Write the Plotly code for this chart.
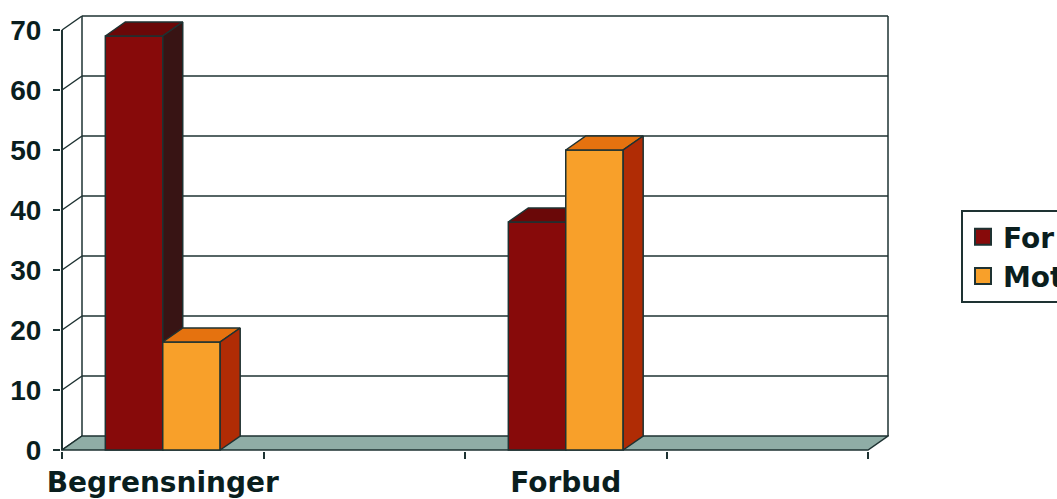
import plotly.graph_objects as go

# data
categories = ["Begrensninger", "", "Forbud", ""]
series_names = ["For", "Mot"]
for_values = [69, None, 38, None]
mot_values = [18, None, 50, None]
y_ticks = [0, 10, 20, 30, 40, 50, 60, 70]

# colours: front, top, side
front_colors = ["#870A0A", "#F8A02A"]
top_colors = ["#6A0808", "#E5720F"]
side_colors = ["#381414", "#B02C05"]
LINE = "#1E3232"
TEXT = "#0A1E1E"
FLOOR = "#8FADA6"

# fake 3d geometry (in axis units)
BAR_W = 0.285
DX = 20 / 201.5       # depth offset in x
DY = 14 / 6           # depth offset in y
YMAX = y_ticks[-1]

positions = list(range(len(categories)))
x_lo, x_hi = -0.5, len(categories) - 0.5

fig = go.Figure()

all_values = [for_values, mot_values]
for i, (name, vals) in enumerate(zip(series_names, all_values)):
    # each series on its own overlaid axes so later bars cover earlier sides
    xa = "x" if i == 0 else "x2"
    ya = "y" if i == 0 else "y2"
    offset = -BAR_W + i * BAR_W

    # front faces
    fig.add_trace(go.Bar(x=positions, y=vals, width=BAR_W, offset=offset,
                         marker=dict(color=front_colors[i],
                                     line=dict(color=LINE, width=1.5)),
                         showlegend=False, xaxis=xa, yaxis=ya))

    # top and side faces
    top_x, top_y, side_x, side_y = [], [], [], []
    for p, v in zip(positions, vals):
        if v is None:
            continue
        left = p + offset
        right = left + BAR_W
        top_x += [left, right, right + DX, left + DX, left, None]
        top_y += [v, v, v + DY, v + DY, v, None]
        side_x += [right, right, right + DX, right + DX, right, None]
        side_y += [0, v, v + DY, DY, 0, None]
    fig.add_trace(go.Scatter(x=top_x, y=top_y, fill="toself", mode="lines",
                             fillcolor=top_colors[i],
                             line=dict(color=LINE, width=1.5),
                             hoverinfo="skip", showlegend=False,
                             xaxis=xa, yaxis=ya))
    fig.add_trace(go.Scatter(x=side_x, y=side_y, fill="toself", mode="lines",
                             fillcolor=side_colors[i],
                             line=dict(color=LINE, width=1.5),
                             hoverinfo="skip", showlegend=False,
                             xaxis=xa, yaxis=ya))

    # legend entry
    fig.add_trace(go.Scatter(x=[None], y=[None], mode="markers", name=name,
                             legendgroup=name,
                             marker=dict(symbol="square", size=19,
                                         color=front_colors[i],
                                         line=dict(color=LINE, width=2)),
                             xaxis=xa, yaxis=ya))

# walls, floor and gridlines
shapes = []
xb0, xb1 = x_lo + DX, x_hi + DX
for v in y_ticks:
    shapes.append(dict(type="line", x0=x_lo, y0=v, x1=xb0, y1=v + DY,
                       line=dict(color=LINE, width=1.5)))
    if v > 0:
        shapes.append(dict(type="line", x0=xb0, y0=v + DY, x1=xb1, y1=v + DY,
                           line=dict(color=LINE, width=1.5)))
shapes.append(dict(type="line", x0=xb0, y0=DY, x1=xb0, y1=YMAX + DY,
                   line=dict(color=LINE, width=1.5)))
shapes.append(dict(type="line", x0=xb1, y0=DY, x1=xb1, y1=YMAX + DY,
                   line=dict(color=LINE, width=1.5)))
shapes.append(dict(type="path",
                   path=f"M{x_lo},0 L{x_hi},0 L{xb1},{DY} L{xb0},{DY} Z",
                   fillcolor=FLOOR, line=dict(color=LINE, width=1.5)))
shapes.append(dict(type="line", x0=x_lo, y0=0, x1=x_lo, y1=YMAX,
                   line=dict(color=LINE, width=2)))
for s in shapes:
    s.update(xref="x", yref="y", layer="below")

x_range = [x_lo - 1 / 201.5, x_lo + 827 / 201.5]
y_range = [-1 / 6, 72.5]

fig.update_layout(
    width=1057, height=499,
    margin=dict(l=61, r=168, t=15, b=48, autoexpand=False),
    paper_bgcolor="white", plot_bgcolor="white",
    bargap=0.43, bargroupgap=0,
    shapes=shapes,
    xaxis=dict(range=x_range, tickmode="array", tickvals=positions,
               ticktext=categories, ticks="", showgrid=False, zeroline=False,
               showline=False, fixedrange=True, ticklabelstandoff=12,
               tickfont=dict(family="DejaVu Sans", size=28, color=TEXT,
                             weight="bold"),
               minor=dict(tickmode="array",
                          tickvals=[p - 0.5 for p in positions] + [x_hi],
                          ticks="outside", ticklen=7, tickwidth=2,
                          tickcolor=LINE, showgrid=False)),
    yaxis=dict(range=y_range, tickmode="array", tickvals=y_ticks,
               ticks="outside", ticklen=7, tickwidth=2, tickcolor=LINE,
               showgrid=False, zeroline=False, showline=False,
               fixedrange=True, ticklabelstandoff=6,
               tickfont=dict(family="Liberation Sans", size=28, color=TEXT,
                             weight="bold")),
    xaxis2=dict(range=x_range, overlaying="x", visible=False, fixedrange=True),
    yaxis2=dict(range=y_range, overlaying="y", visible=False, fixedrange=True),
    legend=dict(x=(961 - 61) / 828, y=(451 - 210) / 436,
                xanchor="left", yanchor="top",
                bordercolor=LINE, borderwidth=2, bgcolor="white",
                tracegroupgap=10, traceorder="normal",
                font=dict(family="DejaVu Sans", size=28, color=TEXT,
                          weight="bold")),
)

fig.write_html("out.html", config={"displayModeBar": False},
               post_script="document.body.style.margin='0';")
